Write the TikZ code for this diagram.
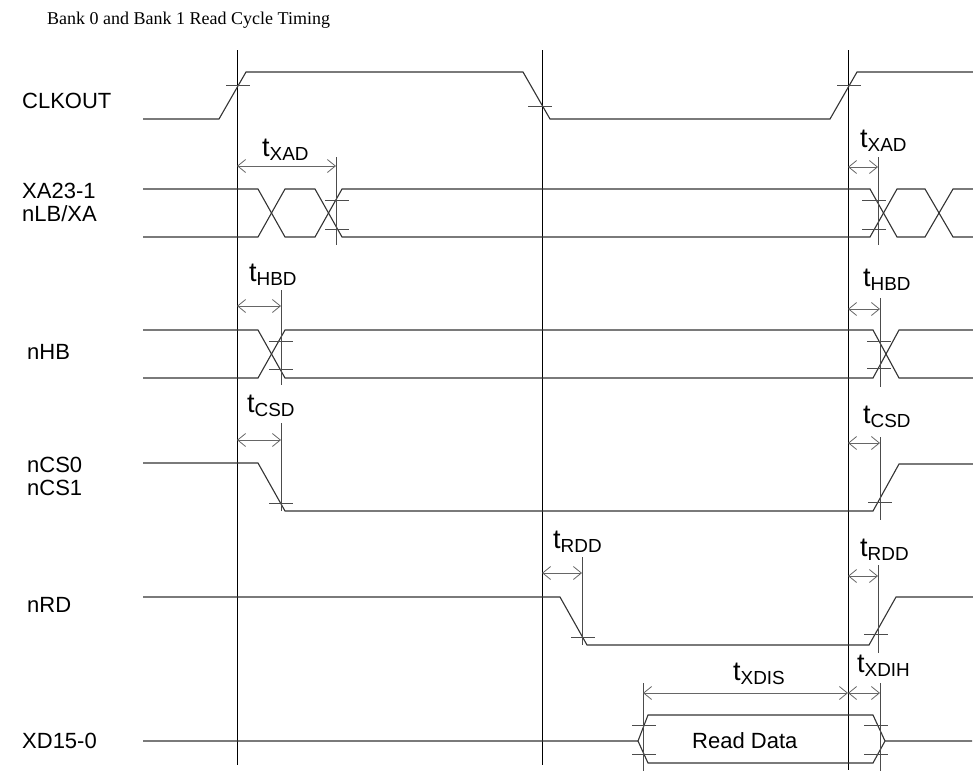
\documentclass[tikz,border=0pt]{standalone}
\usepackage{fontspec}
\setmainfont{Liberation Sans}
\newfontfamily\titlefont{Liberation Serif}
\usetikzlibrary{arrows.meta}

\newcommand{\tsub}[1]{t\textsubscript{#1}}

\begin{document}
\begin{tikzpicture}[x=1pt, y=-1pt,
  sig/.style={draw=black!80, line width=1.1pt},
  ref/.style={draw=black, line width=0.9pt},
  tick/.style={draw=black!70, line width=0.9pt},
  dim/.style={{Straight Barb[length=8pt,width=13pt]}-{Straight Barb[length=8pt,width=13pt]}, draw=black!60, line width=0.8pt},
  lab/.style={font=\fontsize{22}{23}\selectfont, anchor=west, align=left, inner sep=0pt},
  tlab/.style={font=\fontsize{27}{28}\selectfont, anchor=base west, inner sep=0pt}
]
  \useasboundingbox (0,0) rectangle (973,772);

  % title and signal names
  \node[lab, anchor=base west, font=\titlefont\fontsize{18}{20}\selectfont] (title) at (47,24) {Bank 0 and Bank 1 Read Cycle Timing};
  \node[lab] (clk) at (22,101) {CLKOUT};
  \node[lab] (xa) at (22,202) {XA23-1\\nLB/XA};
  \node[lab] (hb) at (27,352) {nHB};
  \node[lab] (cs) at (27,476) {nCS0\\nCS1};
  \node[lab] (rd) at (27,605) {nRD};
  \node[lab] (xd) at (22,741) {XD15-0};

  % reference lines
  \foreach \x/\e in {237/765, 542/765, 848/770}
    \draw[ref] (\x,50) -- (\x,\e);

  % CLKOUT
  \draw[sig] (143,119) -- (219,119) -- (246,72) -- (523,72) -- (550,119) -- (830,119) -- (857,72) -- (973,72);
  % XA23-1 / nLB/XA
  \draw[sig] (143,189) -- (258,189) -- (285,237) -- (315,237) -- (342,189) -- (870,189) -- (897,237) -- (925,237) -- (953,189) -- (973,189);
  \draw[sig] (143,237) -- (258,237) -- (285,189) -- (315,189) -- (342,237) -- (870,237) -- (897,189) -- (925,189) -- (953,237) -- (973,237);
  % nHB
  \draw[sig] (143,330) -- (258,330) -- (285,378) -- (873,378) -- (899,330) -- (973,330);
  \draw[sig] (143,378) -- (258,378) -- (285,330) -- (873,330) -- (899,378) -- (973,378);
  % nCS0 / nCS1
  \draw[sig] (143,463) -- (258,463) -- (285,511) -- (873,511) -- (899,464) -- (973,464);
  % nRD
  \draw[sig] (143,597) -- (560,597) -- (587,645) -- (869,645) -- (896,597) -- (973,597);
  % XD15-0
  \draw[sig] (143,741) -- (638,741) -- (648,715) -- (873,715) -- (885,741) -- (972,741)
             (638,741) -- (648,763) -- (873,763) -- (885,741);
  \node[lab, anchor=base west] (data) at (692,748) {Read Data};

  % crossing marks
  \foreach \x/\y in {238/85, 540/106, 849/85, 281/503, 880/502, 583/637, 876/634}
    \draw[tick] (\x-12,\y) -- (\x+12,\y);
  \foreach \x/\ya/\yb in {337/200/229, 874/200/229, 281/341/369, 879/341/368, 644/725/754, 876/725/754}
    \draw[tick] (\x-12,\ya) -- (\x+12,\ya) (\x-12,\yb) -- (\x+12,\yb);
  \foreach \x/\ya/\yb in {336/157/245, 878/157/245, 281/290/385, 880/298/387, 281/423/511, 880/437/520, 582/557/645, 878/565/653, 643/683/771, 880/683/771}
    \draw[tick] (\x,\ya) -- (\x,\yb);

  % delay arrows
  \foreach \n/\xa/\xb/\y in {xad1/237/336/166, xad2/848/878/167, hbd1/237/281/306, hbd2/848/880/309, csd1/237/281/440, csd2/848/880/443, rdd1/542/582/573, rdd2/848/878/576, xdis/643/848/693, xdih/848/880/693}
  {
    \coordinate (\n-a) at (\xa,\y);
    \coordinate (\n-b) at (\xb,\y);
    \draw[dim] (\n-a) -- (\n-b);
  }
  \node[tlab] (lxad1) at (262,156) {\tsub{XAD}};
  \node[tlab] (lxad2) at (860,147) {\tsub{XAD}};
  \node[tlab] (lhbd1) at (249,281) {\tsub{HBD}};
  \node[tlab] (lhbd2) at (863,286) {\tsub{HBD}};
  \node[tlab] (lcsd1) at (247,412) {\tsub{CSD}};
  \node[tlab] (lcsd2) at (863,423) {\tsub{CSD}};
  \node[tlab] (lrdd1) at (553,548) {\tsub{RDD}};
  \node[tlab] (lrdd2) at (860,556) {\tsub{RDD}};
  \node[tlab] (lxdis) at (733,680) {\tsub{XDIS}};
  \node[tlab] (lxdih) at (857,672) {\tsub{XDIH}};
\end{tikzpicture}
\end{document}
